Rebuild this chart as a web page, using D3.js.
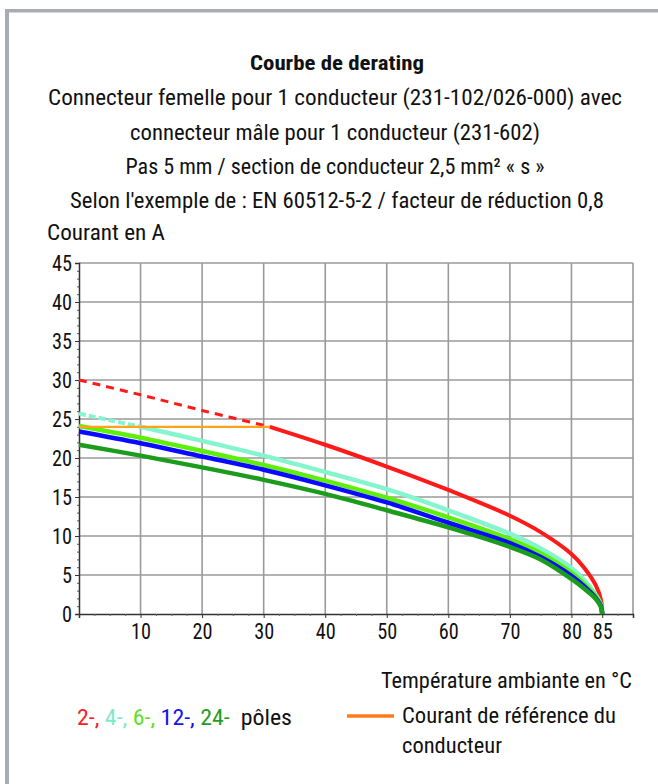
<!DOCTYPE html>
<html><head><meta charset="utf-8">
<script src="https://cdn.jsdelivr.net/npm/d3@7"></script>
<style>
html,body{margin:0;padding:0;background:#fff;}
svg{display:block;}
text{font-family:"Liberation Sans Narrow","Roboto Condensed",Roboto,"Liberation Sans",Arial,sans-serif;fill:#111;}
</style></head>
<body>
<svg id="chart" width="658" height="784"></svg>
<script>
// ---- data ----
const titleLines = [
  "Courbe de derating",
  "Connecteur femelle pour 1 conducteur (231-102/026-000) avec",
  "connecteur mâle pour 1 conducteur (231-602)",
  "Pas 5 mm / section de conducteur 2,5 mm² « s »",
  "Selon l'exemple de : EN 60512-5-2 / facteur de réduction 0,8"
];
const yTicks = [0,5,10,15,20,25,30,35,40,45];
const xTicks = [10,20,30,40,50,60,70,80,85];
const xGrid  = [10,20,30,40,50,60,70,80,90];

// 2-pole (red): dashed part above reference current, solid part
const red2Dashed = [[0,30],[10,28.1],[20,26.1],[31,24]];
const red2Solid  = [[31,24],[40,21.7],[50,18.9],[60,15.9],[70,12.6],[75,10.5],[80,7.7],[82,6.0],[84,3.6],[84.8,1.8],[85,0]];
// 4-pole (aquamarine)
const aqua4Dashed = [[0,25.7],[5,24.85],[10,24.0]];
const aqua4Solid  = [[10,24.0],[20,22.2],[30,20.3],[40,18.2],[50,16.0],[60,13.3],[70,10.3],[75,8.4],[80,5.9],[82,4.4],[84,2.4],[84.8,1.2],[85,0]];
// 6-pole (light green)
const green6 = [[0,24.1],[10,22.6],[20,20.9],[30,19.1],[40,17.1],[50,14.9],[60,12.4],[70,9.6],[75,7.8],[80,5.3],[82,3.9],[84,2.2],[84.8,1.0],[85,0]];
// 12-pole (blue)
const blue12 = [[0,23.4],[10,21.9],[20,20.2],[30,18.5],[40,16.5],[50,14.3],[60,11.7],[70,9.1],[75,7.3],[80,4.9],[82,3.6],[84,2.0],[84.8,1.0],[85,0]];
// 24-pole (dark green)
const dgreen24 = [[0,21.7],[10,20.3],[20,18.8],[30,17.2],[40,15.4],[50,13.3],[60,11.1],[70,8.6],[75,7.0],[80,4.5],[82,3.3],[84,1.9],[84.8,0.9],[85,0]];
// reference current of the conductor (orange)
const refCurrent = [[0,24],[31,24]];

const legendParts = [
  {t:"2-,", c:"#ff2020"},
  {t:" 4-,", c:"#7fe9c4"},
  {t:" 6-,", c:"#5fe02a"},
  {t:" 12-,", c:"#1414ee"},
  {t:" 24-", c:"#1f9e1f"},
  {t:"  pôles", c:"#111"}
];

// ---- drawing ----
const FONT = '"Liberation Sans Narrow","Roboto Condensed",Roboto,"Liberation Sans",Arial,sans-serif';
const svg = d3.select("#chart");

// frame
svg.append("rect").attr("x",5).attr("y",9).attr("width",653).attr("height",3.5).attr("fill","#a9acb2");
svg.append("rect").attr("x",5).attr("y",9).attr("width",4).attr("height",775).attr("fill","#a9acb2");

function addText(str, x, y, w, opts={}) {
  const t = svg.append("text").attr("x",x).attr("y",y)
    .attr("font-size", opts.size || 22)
    .attr("text-anchor", opts.anchor || "start")
    .text(str);
  if (opts.bold) t.attr("font-weight", opts.bold);
  if (w) t.attr("textLength", w).attr("lengthAdjust","spacingAndGlyphs");
  return t;
}

addText(titleLines[0], 337, 70, 174, {anchor:"middle", bold:"bold", size:21});
addText(titleLines[1], 335, 105, 574, {anchor:"middle"});
addText(titleLines[2], 335, 140, 410, {anchor:"middle"});
addText(titleLines[3], 335, 174, 419, {anchor:"middle"});
addText(titleLines[4], 337, 208, 534, {anchor:"middle"});
addText("Courant en A", 47, 240, 118);

const x = d3.scaleLinear().domain([0,90]).range([79,633]);
const y = d3.scaleLinear().domain([0,45]).range([614,263]);

// grid
const g = svg.append("g");
g.selectAll(".hg").data(yTicks.filter(d=>d>0)).enter().append("line")
  .attr("x1",x(0)).attr("x2",x(90)).attr("y1",d=>y(d)).attr("y2",d=>y(d))
  .attr("stroke","#9a9a9a").attr("stroke-width",1.6);
g.selectAll(".vg").data(xGrid).enter().append("line")
  .attr("y1",y(0)).attr("y2",y(45)).attr("x1",d=>x(d)).attr("x2",d=>x(d))
  .attr("stroke","#9a9a9a").attr("stroke-width",1.6);

// y axis
const yAxis = d3.axisLeft(y).tickValues(yTicks).tickSize(4).tickFormat(d3.format("d"));
const ya = svg.append("g").attr("transform",`translate(${x(0)},0)`).call(yAxis);
ya.select(".domain").attr("stroke","#333").attr("stroke-width",1.5);
ya.selectAll(".tick line").attr("stroke","#333");
ya.selectAll(".tick text").attr("font-size",22).attr("fill","#111").attr("x",-7)
  .attr("textLength",d=>String(d).length*10).attr("lengthAdjust","spacingAndGlyphs")
  .style("font-family",FONT);
// y minor ticks
const yMinor = d3.range(0,46,1).filter(d=>d%5!==0);
svg.append("g").attr("transform",`translate(${x(0)},0)`).call(d3.axisLeft(y).tickValues(yMinor).tickSize(2).tickFormat(""))
  .call(s=>s.select(".domain").remove())
  .selectAll(".tick line").attr("stroke","#555");

// x axis
const xAxis = d3.axisBottom(x).tickValues(xTicks).tickSize(4).tickFormat(d3.format("d"));
const xa = svg.append("g").attr("transform",`translate(0,${y(0)})`).call(xAxis);
xa.select(".domain").attr("stroke","#333").attr("stroke-width",1.5);
xa.selectAll(".tick line").attr("stroke","#333");
xa.selectAll(".tick text").attr("font-size",22).attr("fill","#111").attr("y",9)
  .attr("textLength",d=>String(d).length*10).attr("lengthAdjust","spacingAndGlyphs")
  .style("font-family",FONT);
const xMinor = d3.range(0,91,2.5).filter(d=>d%10!==0 && d!==85);
svg.append("g").attr("transform",`translate(0,${y(0)})`).call(d3.axisBottom(x).tickValues(xMinor).tickSize(2).tickFormat(""))
  .call(s=>s.select(".domain").remove())
  .selectAll(".tick line").attr("stroke","#666");

// curves
const line = d3.line().x(d=>x(d[0])).y(d=>y(d[1])).curve(d3.curveCatmullRom.alpha(0.5));
const lineStraight = d3.line().x(d=>x(d[0])).y(d=>y(d[1]));
function draw(data, color, w, dash, gen) {
  const p = svg.append("path").attr("d",(gen||line)(data)).attr("fill","none")
    .attr("stroke",color).attr("stroke-width",w).attr("stroke-linecap","butt").attr("stroke-linejoin","round");
  if (dash) p.attr("stroke-dasharray",dash);
  return p;
}
draw(red2Dashed, "#ff1a1a", 3, "8,6");
draw(red2Solid, "#ff1a1a", 4);
draw(aqua4Dashed, "#84f5cc", 4, "7,3");
draw(aqua4Solid, "#84f5cc", 4.5);
draw(green6, "#5ef00a", 4.5);
draw(blue12, "#0a0aff", 4.5);
draw(dgreen24, "#1c9c1c", 4.5);
draw(refCurrent, "#ffa31a", 2.2, null, lineStraight);

// x label
addText("Température ambiante en °C", 381, 688, 251);

// legend
const lt = svg.append("text").attr("x",77).attr("y",725).attr("font-size",22)
  .attr("textLength",215).attr("lengthAdjust","spacingAndGlyphs").style("white-space","pre");
lt.selectAll("tspan").data(legendParts).enter().append("tspan")
  .style("fill",d=>d.c).text(d=>d.t);
svg.append("line").attr("x1",347).attr("x2",394).attr("y1",716).attr("y2",716)
  .attr("stroke","#ff7a1a").attr("stroke-width",3.5);
addText("Courant de référence du", 402, 723, 214);
addText("conducteur", 402, 753, 100);
</script>
</body></html>
